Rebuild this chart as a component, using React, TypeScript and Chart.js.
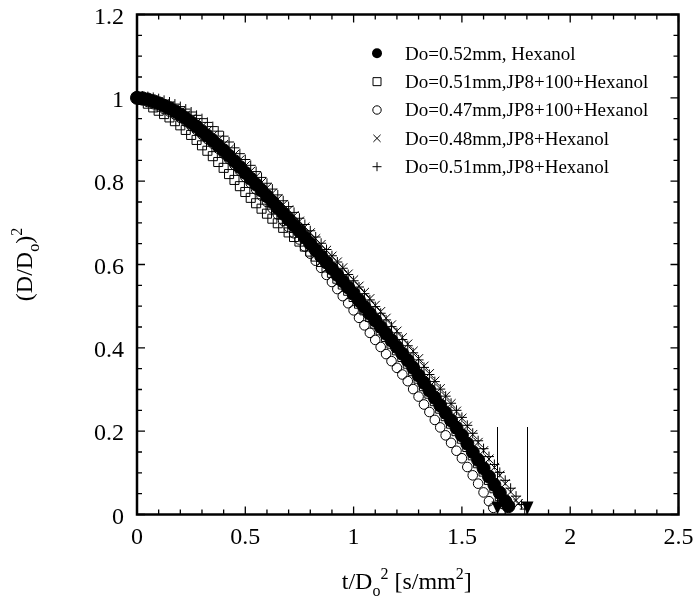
import React, { useEffect, useRef } from "react";
import { Chart, registerables } from "chart.js";

Chart.register(...registerables);

// ---------- data ----------
const xTicks = [0, 0.5, 1, 1.5, 2, 2.5];
const xTickLabels = ["0", "0.5", "1", "1.5", "2", "2.5"];
const yTicks = [0, 0.2, 0.4, 0.6, 0.8, 1, 1.2];
const yTickLabels = ["0", "0.2", "0.4", "0.6", "0.8", "1", "1.2"];

const seriesLabels = [
  "Do=0.52mm, Hexanol",
  "Do=0.51mm,JP8+100+Hexanol",
  "Do=0.47mm,JP8+100+Hexanol",
  "Do=0.48mm,JP8+Hexanol",
  "Do=0.51mm,JP8+Hexanol",
];

// extinction markers (t/Do^2) and their line top
const arrowX = [1.66, 1.8];
const arrowTopY = 0.21;

const hexanol052: [number, number][] = [
  [0, 1.0], [0.025, 0.999], [0.05, 0.996], [0.075, 0.992], [0.1, 0.987], [0.125, 0.981],
  [0.15, 0.975], [0.175, 0.968], [0.2, 0.96], [0.225, 0.951], [0.25, 0.941], [0.275, 0.931],
  [0.3, 0.92], [0.325, 0.909], [0.35, 0.898], [0.375, 0.886], [0.4, 0.874], [0.425, 0.861],
  [0.45, 0.848], [0.475, 0.834], [0.5, 0.82], [0.525, 0.806], [0.55, 0.792], [0.575, 0.778],
  [0.6, 0.764], [0.625, 0.75], [0.65, 0.736], [0.675, 0.722], [0.7, 0.708], [0.725, 0.694],
  [0.75, 0.68], [0.775, 0.665], [0.8, 0.65], [0.825, 0.635], [0.85, 0.62], [0.875, 0.605],
  [0.9, 0.59], [0.925, 0.575], [0.95, 0.56], [0.975, 0.545], [1.0, 0.53], [1.025, 0.514],
  [1.05, 0.498], [1.075, 0.482], [1.1, 0.466], [1.125, 0.45], [1.15, 0.434], [1.175, 0.418],
  [1.2, 0.402], [1.225, 0.386], [1.25, 0.37], [1.275, 0.352], [1.3, 0.334], [1.325, 0.316],
  [1.35, 0.298], [1.375, 0.28], [1.4, 0.262], [1.425, 0.244], [1.45, 0.226], [1.475, 0.208],
  [1.5, 0.19], [1.525, 0.17], [1.55, 0.15], [1.575, 0.131], [1.6, 0.111], [1.625, 0.091],
  [1.65, 0.071], [1.675, 0.052], [1.7, 0.032], [1.715, 0.02],
];

const jp8100_051: [number, number][] = [
  [0, 1.0], [0.025, 0.995], [0.05, 0.986], [0.075, 0.977], [0.1, 0.969], [0.125, 0.961],
  [0.15, 0.953], [0.175, 0.944], [0.2, 0.934], [0.225, 0.923], [0.25, 0.911], [0.275, 0.899],
  [0.3, 0.886], [0.325, 0.873], [0.35, 0.86], [0.375, 0.846], [0.4, 0.832], [0.425, 0.817],
  [0.45, 0.803], [0.475, 0.788], [0.5, 0.774], [0.525, 0.76], [0.55, 0.747], [0.575, 0.734],
  [0.6, 0.722], [0.625, 0.71], [0.65, 0.699], [0.675, 0.688], [0.7, 0.677], [0.725, 0.666],
  [0.75, 0.655], [0.775, 0.643], [0.8, 0.631], [0.825, 0.619], [0.85, 0.606], [0.875, 0.593],
  [0.9, 0.58], [0.925, 0.566], [0.95, 0.552], [0.975, 0.537], [1.0, 0.522], [1.025, 0.506],
  [1.05, 0.49], [1.075, 0.474], [1.1, 0.458], [1.125, 0.442], [1.15, 0.426], [1.175, 0.41],
  [1.2, 0.394], [1.225, 0.378], [1.25, 0.362], [1.275, 0.344], [1.3, 0.326], [1.325, 0.308],
  [1.35, 0.29], [1.375, 0.272], [1.4, 0.254], [1.425, 0.236], [1.45, 0.218], [1.475, 0.2],
  [1.5, 0.182], [1.525, 0.162], [1.55, 0.142], [1.575, 0.123], [1.6, 0.103], [1.625, 0.083],
  [1.65, 0.063], [1.675, 0.044], [1.7, 0.025],
];

const jp8100_047: [number, number][] = [
  [0, 1.0], [0.025, 0.994], [0.05, 0.99], [0.075, 0.985], [0.1, 0.979], [0.125, 0.973],
  [0.15, 0.967], [0.175, 0.96], [0.2, 0.952], [0.225, 0.943], [0.25, 0.933], [0.275, 0.923],
  [0.3, 0.912], [0.325, 0.901], [0.35, 0.89], [0.375, 0.878], [0.4, 0.866], [0.425, 0.853],
  [0.45, 0.839], [0.475, 0.825], [0.5, 0.81], [0.525, 0.795], [0.55, 0.78], [0.575, 0.765],
  [0.6, 0.75], [0.625, 0.735], [0.65, 0.72], [0.675, 0.705], [0.7, 0.69], [0.725, 0.675],
  [0.75, 0.66], [0.775, 0.643], [0.8, 0.626], [0.825, 0.609], [0.85, 0.592], [0.875, 0.575],
  [0.9, 0.558], [0.925, 0.541], [0.95, 0.524], [0.975, 0.507], [1.0, 0.49], [1.025, 0.472],
  [1.05, 0.454], [1.075, 0.436], [1.1, 0.419], [1.125, 0.402], [1.15, 0.385], [1.175, 0.368],
  [1.2, 0.352], [1.225, 0.336], [1.25, 0.32], [1.275, 0.301], [1.3, 0.283], [1.325, 0.264],
  [1.35, 0.246], [1.375, 0.227], [1.4, 0.209], [1.425, 0.19], [1.45, 0.172], [1.475, 0.153],
  [1.5, 0.135], [1.525, 0.114], [1.55, 0.094], [1.575, 0.074], [1.6, 0.053], [1.625, 0.032],
  [1.645, 0.016],
];

const jp8_048: [number, number][] = [
  [0, 1.0], [0.025, 1.0], [0.05, 0.998], [0.075, 0.995], [0.1, 0.991], [0.125, 0.986],
  [0.15, 0.98], [0.175, 0.974], [0.2, 0.967], [0.225, 0.959], [0.25, 0.95], [0.275, 0.941],
  [0.3, 0.931], [0.325, 0.921], [0.35, 0.91], [0.375, 0.899], [0.4, 0.888], [0.425, 0.876],
  [0.45, 0.864], [0.475, 0.851], [0.5, 0.837], [0.525, 0.824], [0.55, 0.811], [0.575, 0.797],
  [0.6, 0.784], [0.625, 0.771], [0.65, 0.757], [0.675, 0.744], [0.7, 0.731], [0.725, 0.717],
  [0.75, 0.704], [0.775, 0.69], [0.8, 0.676], [0.825, 0.662], [0.85, 0.648], [0.875, 0.634],
  [0.9, 0.62], [0.925, 0.606], [0.95, 0.592], [0.975, 0.577], [1.0, 0.563], [1.025, 0.548],
  [1.05, 0.533], [1.075, 0.518], [1.1, 0.502], [1.125, 0.487], [1.15, 0.471], [1.175, 0.455],
  [1.2, 0.44], [1.225, 0.424], [1.25, 0.409], [1.275, 0.392], [1.3, 0.374], [1.325, 0.356],
  [1.35, 0.338], [1.375, 0.32], [1.4, 0.302], [1.425, 0.284], [1.45, 0.266], [1.475, 0.248],
  [1.5, 0.231], [1.525, 0.212], [1.55, 0.192], [1.575, 0.173], [1.6, 0.153], [1.625, 0.133],
  [1.65, 0.113], [1.675, 0.094], [1.7, 0.074], [1.725, 0.054], [1.75, 0.034], [1.76, 0.026],
];

const jp8_051: [number, number][] = [
  [0, 1.003], [0.025, 1.004], [0.05, 1.003], [0.075, 1.001], [0.1, 0.998], [0.125, 0.994],
  [0.15, 0.99], [0.175, 0.985], [0.2, 0.979], [0.225, 0.973], [0.25, 0.966], [0.275, 0.958],
  [0.3, 0.95], [0.325, 0.941], [0.35, 0.931], [0.375, 0.92], [0.4, 0.908], [0.425, 0.894],
  [0.45, 0.88], [0.475, 0.866], [0.5, 0.852], [0.525, 0.838], [0.55, 0.823], [0.575, 0.809],
  [0.6, 0.795], [0.625, 0.781], [0.65, 0.767], [0.675, 0.753], [0.7, 0.739], [0.725, 0.725],
  [0.75, 0.711], [0.775, 0.696], [0.8, 0.681], [0.825, 0.666], [0.85, 0.651], [0.875, 0.636],
  [0.9, 0.621], [0.925, 0.606], [0.95, 0.591], [0.975, 0.576], [1.0, 0.561], [1.025, 0.546],
  [1.05, 0.53], [1.075, 0.515], [1.1, 0.499], [1.125, 0.483], [1.15, 0.467], [1.175, 0.451],
  [1.2, 0.436], [1.225, 0.42], [1.25, 0.405], [1.275, 0.388], [1.3, 0.371], [1.325, 0.353],
  [1.35, 0.336], [1.375, 0.319], [1.4, 0.301], [1.425, 0.284], [1.45, 0.267], [1.475, 0.25],
  [1.5, 0.233], [1.525, 0.214], [1.55, 0.195], [1.575, 0.177], [1.6, 0.158], [1.625, 0.139],
  [1.65, 0.12], [1.675, 0.101], [1.7, 0.082], [1.725, 0.063], [1.75, 0.044], [1.775, 0.024],
  [1.79, 0.013],
];

// ---------- styling ----------
const FONT = '"Liberation Serif", "Times New Roman", serif';
const INK = "#000";

type Run = { t: string; s: number; dy: number };

function drawRuns(ctx: CanvasRenderingContext2D, runs: Run[], cx: number, baseY: number) {
  let total = 0;
  runs.forEach((r) => {
    ctx.font = `${r.s}px ${FONT}`;
    total += ctx.measureText(r.t).width;
  });
  let x = cx - total / 2;
  ctx.textAlign = "left";
  ctx.textBaseline = "alphabetic";
  runs.forEach((r) => {
    ctx.font = `${r.s}px ${FONT}`;
    ctx.fillText(r.t, x, baseY + r.dy);
    x += ctx.measureText(r.t).width;
  });
}

function drawMarker(ctx: CanvasRenderingContext2D, kind: number, x: number, y: number) {
  ctx.beginPath();
  ctx.lineWidth = 1;
  ctx.strokeStyle = INK;
  ctx.fillStyle = INK;
  if (kind === 0) {
    ctx.arc(x, y, 5, 0, Math.PI * 2);
    ctx.fill();
  } else if (kind === 1) {
    ctx.rect(x - 4, y - 4, 8, 8);
    ctx.stroke();
  } else if (kind === 2) {
    ctx.arc(x, y, 4.2, 0, Math.PI * 2);
    ctx.stroke();
  } else if (kind === 3) {
    ctx.moveTo(x - 3.6, y - 3.6);
    ctx.lineTo(x + 3.6, y + 3.6);
    ctx.moveTo(x + 3.6, y - 3.6);
    ctx.lineTo(x - 3.6, y + 3.6);
    ctx.stroke();
  } else {
    ctx.moveTo(x - 4.5, y);
    ctx.lineTo(x + 4.5, y);
    ctx.moveTo(x, y - 4.5);
    ctx.lineTo(x, y + 4.5);
    ctx.stroke();
  }
}

const decorPlugin = {
  id: "decor",
  afterDatasetsDraw(chart: any) {
    const { ctx, chartArea: a, scales } = chart;
    const xs = scales.x;
    const ys = scales.y;
    ctx.save();

    // extinction arrows
    ctx.strokeStyle = INK;
    ctx.fillStyle = INK;
    ctx.lineWidth = 1;
    arrowX.forEach((ax) => {
      const px = Math.round(xs.getPixelForValue(ax)) + 0.5;
      const top = ys.getPixelForValue(arrowTopY);
      const tip = ys.getPixelForValue(0);
      ctx.beginPath();
      ctx.moveTo(px, top);
      ctx.lineTo(px, tip - 12);
      ctx.stroke();
      ctx.beginPath();
      ctx.moveTo(px - 6, tip - 13);
      ctx.lineTo(px + 6, tip - 13);
      ctx.lineTo(px, tip);
      ctx.closePath();
      ctx.fill();
    });

    // ticks (inward on all four sides)
    ctx.lineWidth = 1.3;
    const major = 8;
    const minor = 5;
    for (let i = 0; i <= 25; i++) {
      const v = i / 10;
      const px = xs.getPixelForValue(v);
      const len = i % 5 === 0 ? major : minor;
      ctx.beginPath();
      ctx.moveTo(px, a.bottom);
      ctx.lineTo(px, a.bottom - len);
      ctx.moveTo(px, a.top);
      ctx.lineTo(px, a.top + len);
      ctx.stroke();
    }
    for (let i = 0; i <= 24; i++) {
      const v = i / 20;
      const py = ys.getPixelForValue(v);
      const len = i % 4 === 0 ? major : minor;
      ctx.beginPath();
      ctx.moveTo(a.left, py);
      ctx.lineTo(a.left + len, py);
      ctx.moveTo(a.right, py);
      ctx.lineTo(a.right - len, py);
      ctx.stroke();
    }

    // frame
    ctx.lineWidth = 2.5;
    ctx.strokeRect(a.left, a.top, a.right - a.left, a.bottom - a.top);

    // tick labels
    ctx.font = `24px ${FONT}`;
    ctx.fillStyle = INK;
    ctx.textBaseline = "alphabetic";
    ctx.textAlign = "center";
    xTicks.forEach((v, i) => {
      ctx.fillText(xTickLabels[i], xs.getPixelForValue(v), a.bottom + 29);
    });
    ctx.textAlign = "right";
    yTicks.forEach((v, i) => {
      ctx.fillText(yTickLabels[i], 124, ys.getPixelForValue(v) + 9);
    });

    // x title
    drawRuns(
      ctx,
      [
        { t: "t/D", s: 24, dy: 0 },
        { t: "o", s: 16, dy: 7 },
        { t: "2", s: 16, dy: -10 },
        { t: " [s/mm", s: 24, dy: 0 },
        { t: "2", s: 16, dy: -10 },
        { t: "]", s: 24, dy: 0 },
      ],
      (a.left + a.right) / 2 - 1,
      589
    );

    // y title (rotated)
    ctx.save();
    ctx.translate(32, (a.top + a.bottom) / 2);
    ctx.rotate(-Math.PI / 2);
    drawRuns(
      ctx,
      [
        { t: "(D/D", s: 24, dy: 0 },
        { t: "o", s: 16, dy: 7 },
        { t: ")", s: 24, dy: 0 },
        { t: "2", s: 16, dy: -10 },
      ],
      0,
      0
    );
    ctx.restore();

    // legend
    seriesLabels.forEach((lab, i) => {
      const cy = 53.3 + i * 28.35;
      drawMarker(ctx, i, 377, cy);
      ctx.font = `19px ${FONT}`;
      ctx.fillStyle = INK;
      ctx.textAlign = "left";
      ctx.textBaseline = "alphabetic";
      ctx.fillText(lab, 405, cy + 6.2);
    });

    ctx.restore();
  },
};

const toXY = (arr: [number, number][]) => arr.map(([x, y]) => ({ x, y }));

export default function App() {
  const ref = useRef<HTMLCanvasElement | null>(null);

  useEffect(() => {
    document.body.style.margin = "0";
    const canvas = ref.current;
    if (!canvas) return;

    const common = {
      showLine: false,
      clip: false as any,
      borderColor: INK,
      borderWidth: 1,
    };

    const hiddenAxis = {
      type: "linear" as const,
      ticks: { display: false },
      grid: { display: false, drawTicks: false, tickLength: 0 },
      border: { display: false },
      title: { display: false },
    };

    const chart = new Chart(canvas, {
      type: "scatter",
      data: {
        datasets: [
          {
            ...common,
            label: seriesLabels[0],
            data: toXY(hexanol052),
            pointStyle: "circle",
            pointRadius: 6.5,
            backgroundColor: INK,
          },
          {
            ...common,
            label: seriesLabels[1],
            data: toXY(jp8100_051),
            pointStyle: "rect",
            pointRadius: 6.4,
            backgroundColor: "rgba(0,0,0,0)",
          },
          {
            ...common,
            label: seriesLabels[2],
            data: toXY(jp8100_047),
            pointStyle: "circle",
            pointRadius: 4.8,
            backgroundColor: "rgba(0,0,0,0)",
          },
          {
            ...common,
            label: seriesLabels[3],
            data: toXY(jp8_048),
            pointStyle: "crossRot",
            pointRadius: 6.4,
            backgroundColor: "rgba(0,0,0,0)",
          },
          {
            ...common,
            label: seriesLabels[4],
            data: toXY(jp8_051),
            pointStyle: "cross",
            pointRadius: 5,
            backgroundColor: "rgba(0,0,0,0)",
          },
        ],
      },
      options: {
        responsive: false,
        animation: false,
        devicePixelRatio: 1,
        layout: { padding: { left: 137, right: 14.5, top: 14.5, bottom: 94.5 } },
        plugins: {
          legend: { display: false },
          tooltip: { enabled: false },
          title: { display: false },
        },
        elements: { point: { hoverRadius: 0 } },
        scales: {
          x: { ...hiddenAxis, min: 0, max: 2.5 },
          y: { ...hiddenAxis, min: 0, max: 1.2 },
        },
      },
      plugins: [decorPlugin],
    });

    return () => chart.destroy();
  }, []);

  return (
    <div style={{ width: 693, height: 609, background: "#fff" }}>
      <canvas ref={ref} width={693} height={609} style={{ display: "block" }} />
    </div>
  );
}
